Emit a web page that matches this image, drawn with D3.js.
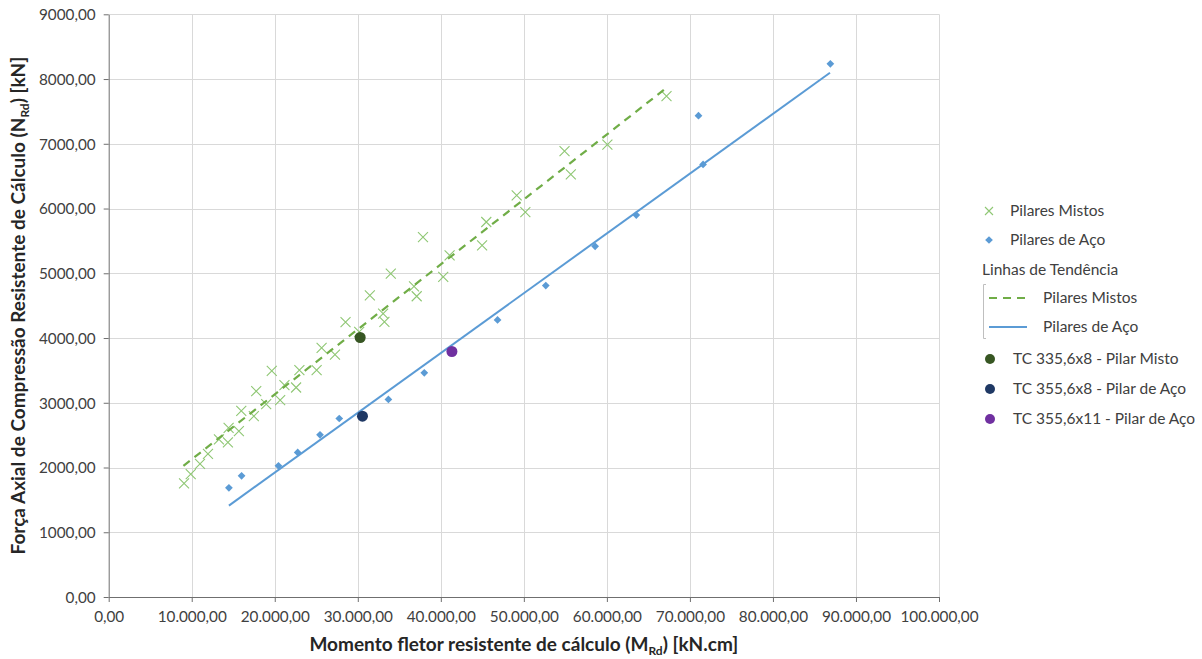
<!DOCTYPE html>
<html>
<head>
<meta charset="utf-8">
<script src="https://cdn.jsdelivr.net/npm/d3@7"></script>
<style>
  body { margin: 0; background: #fff; }
  svg { display: block; font-family: Lato, "Open Sans", sans-serif; }
</style>
</head>
<body>
<svg id="chart" width="1202" height="659"></svg>
<script>
'use strict';

// Pilares Mistos  [M_Rd kN.cm, N_Rd kN]
const mistosX = [9076, 9880, 10997, 11957, 13278, 14358, 14442, 15679, 15967, 17479,
    17767, 18968, 19640, 20649, 21165, 22569, 22966, 25042, 25643, 27251,
    28524, 30169, 31453, 33050, 33206, 33974, 36772, 37095, 37852, 40289,
    41057, 44971, 45475, 49137, 50181, 54899, 55655, 60061, 67181];
const mistosY = [1755, 1898, 2057, 2211, 2434, 2387, 2613, 2562, 2875, 2793,
    3179, 2978, 3492, 3040, 3272, 3236, 3503, 3503, 3847, 3745,
    4244, 4094, 4660, 4378, 4248, 4995, 4799, 4645, 5560, 4943,
    5278, 5432, 5792, 6204, 5946, 6887, 6528, 6986, 7735];

// Pilares de Aço
const acoX = [14478, 16003, 20444, 22761, 25451, 27768, 33686, 38008, 46831, 52642,
    58584, 63542, 71033, 71586, 86916];
const acoY = [1687, 1872, 2026, 2233, 2505, 2757, 3051, 3462, 4279, 4810,
    5417, 5900, 7434, 6682, 8236];

// linhas de tendência (extremos)
const tendMistosX = [9000, 66870];
const tendMistosY = [2026, 7834];
const tendAcoX = [14478, 86870];
const tendAcoY = [1412, 8097];

// pontos destacados
const destaqueNomes = ['TC 335,6x8 - Pilar Misto', 'TC 355,6x8 - Pilar de Aço', 'TC 355,6x11 - Pilar de Aço'];
const destaqueX = [30289, 30565, 41333];
const destaqueY = [4008, 2793, 3792];
const destaqueCores = ['#375623', '#1f3864', '#7030a0'];

const xTicks = d3.range(0, 100001, 10000);
const yTicks = d3.range(0, 9001, 1000);

const margin = { left: 108.7, right: 1202 - 939, top: 14.3, bottom: 659 - 597 };
const width = 1202, height = 659;

const ptBR = d3.formatLocale({ decimal: ',', thousands: '.', grouping: [3], currency: ['R$', ''] });
const fmtX = ptBR.format(',.2f');
const fmtY = ptBR.format('.2f');

const x = d3.scaleLinear().domain([0, 100000]).range([margin.left, width - margin.right]);
const y = d3.scaleLinear().domain([0, 9000]).range([height - margin.bottom, margin.top]);

const svg = d3.select('#chart');

// grade
svg.append('g').selectAll('line').data(yTicks.slice(1)).join('line')
    .attr('x1', x(0)).attr('x2', x(100000))
    .attr('y1', d => Math.round(y(d)) + 0.5).attr('y2', d => Math.round(y(d)) + 0.5)
    .attr('stroke', '#d9d9d9');
svg.append('g').selectAll('line').data(xTicks.slice(1)).join('line')
    .attr('y1', y(0)).attr('y2', y(9000))
    .attr('x1', d => Math.round(x(d)) + 0.5).attr('x2', d => Math.round(x(d)) + 0.5)
    .attr('stroke', '#d9d9d9');

// eixos
const xAxis = svg.append('g')
    .attr('transform', `translate(0,${y(0)})`)
    .call(d3.axisBottom(x).tickValues(xTicks).tickFormat(fmtX).tickSize(5).tickSizeOuter(0));
const yAxis = svg.append('g')
    .attr('transform', `translate(${x(0)},0)`)
    .call(d3.axisLeft(y).tickValues(yTicks).tickFormat(fmtY).tickSize(5).tickSizeOuter(0));
[xAxis, yAxis].forEach(ax => {
    ax.selectAll('path, line').attr('stroke', '#6f6f6f');
    ax.selectAll('text').attr('fill', '#404040').style('font-size', '15.3px').style('font-family', 'Lato, sans-serif');
});
xAxis.selectAll('text').attr('dy', '1.1em');
yAxis.selectAll('text').attr('x', -13).attr('dy', '0.35em');

const line = d3.line().x(d => x(d[0])).y(d => y(d[1]));

// marcadores X
const cruz = (g, s) => g.append('path')
    .attr('d', `M${-s},${-s}L${s},${s}M${-s},${s}L${s},${-s}`)
    .attr('stroke', '#8fc774').attr('stroke-width', 1.1).attr('fill', 'none');
const diamante = d3.symbol().type(d3.symbolSquare).size(30);

const mistos = mistosX.map((v, i) => [v, mistosY[i]]);
const aco = acoX.map((v, i) => [v, acoY[i]]);

svg.append('g').selectAll('g').data(mistos).join('g')
    .attr('transform', d => `translate(${x(d[0])},${y(d[1])})`)
    .each(function () { cruz(d3.select(this), 5); });

svg.append('g').selectAll('path').data(aco).join('path')
    .attr('d', diamante)
    .attr('transform', d => `translate(${x(d[0])},${y(d[1])}) rotate(45)`)
    .attr('fill', '#5b9bd5');

svg.append('path').datum(tendMistosX.map((v, i) => [v, tendMistosY[i]]))
    .attr('d', line).attr('fill', 'none')
    .attr('stroke', '#70ad47').attr('stroke-width', 2.2).attr('stroke-dasharray', '8,6');
svg.append('path').datum(tendAcoX.map((v, i) => [v, tendAcoY[i]]))
    .attr('d', line).attr('fill', 'none')
    .attr('stroke', '#5b9bd5').attr('stroke-width', 2);

svg.append('g').selectAll('circle').data(destaqueX).join('circle')
    .attr('cx', d => x(d)).attr('cy', (d, i) => y(destaqueY[i]))
    .attr('r', 5.5).attr('fill', (d, i) => destaqueCores[i]);

// títulos dos eixos
const xt = svg.append('text')
    .attr('x', (x(0) + x(100000)) / 2).attr('y', 651)
    .attr('text-anchor', 'middle').attr('font-weight', 'bold').attr('font-size', 19).attr('fill', '#262626');
xt.append('tspan').text('Momento fletor resistente de cálculo (M');
xt.append('tspan').attr('font-size', 12).attr('dy', 3.5).text('Rd');
xt.append('tspan').attr('dy', -3.5).text(') [kN.cm]');

const yt = svg.append('text')
    .attr('transform', `translate(25,${(y(0) + y(9000)) / 2}) rotate(-90)`)
    .attr('text-anchor', 'middle').attr('font-weight', 'bold').attr('font-size', 19).attr('fill', '#262626');
yt.append('tspan').text('Força Axial de Compressão Resistente de Cálculo (N');
yt.append('tspan').attr('font-size', 12).attr('dy', 3.5).text('Rd');
yt.append('tspan').attr('dy', -3.5).text(') [kN]');

// legenda
const leg = svg.append('g').attr('font-size', 15.5).attr('fill', '#404040');
const legText = (tx, ty, s) => leg.append('text').attr('x', tx).attr('y', ty).attr('dy', '0.35em').text(s);

const g1 = leg.append('g').attr('transform', 'translate(989,211)');
cruz(g1, 4);
legText(1010, 211, 'Pilares Mistos');
leg.append('path').attr('d', diamante).attr('transform', 'translate(989,240) rotate(45)').attr('fill', '#5b9bd5');
legText(1010, 240, 'Pilares de Aço');
legText(982, 270, 'Linhas de Tendência');
leg.append('path').attr('d', 'M986,284.5H983.5V338.5H986').attr('fill', 'none').attr('stroke', '#bfbfbf');
leg.append('line').attr('x1', 989).attr('x2', 1027).attr('y1', 298).attr('y2', 298)
    .attr('stroke', '#70ad47').attr('stroke-width', 2.2).attr('stroke-dasharray', '8,6');
legText(1043, 298, 'Pilares Mistos');
leg.append('line').attr('x1', 989).attr('x2', 1027).attr('y1', 327).attr('y2', 327)
    .attr('stroke', '#5b9bd5').attr('stroke-width', 2);
legText(1043, 327, 'Pilares de Aço');
destaqueNomes.forEach((nome, i) => {
    const ly = 359 + i * 30;
    leg.append('circle').attr('cx', 990).attr('cy', ly).attr('r', 5).attr('fill', destaqueCores[i]);
    legText(1013, ly, nome);
});
</script>
</body>
</html>
